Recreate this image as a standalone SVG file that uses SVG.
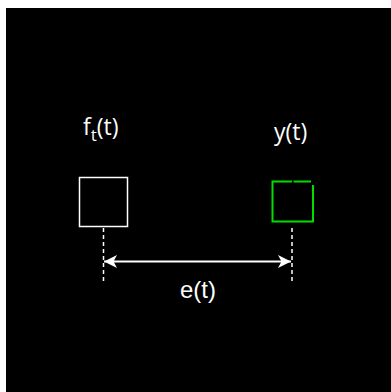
<svg xmlns="http://www.w3.org/2000/svg" width="391" height="392" viewBox="0 0 391 392">
<style>
.lbl{fill:#fff;font-family:"Open Sans","Noto Sans",sans-serif}
.lbl2{fill:#fff;font-family:"Liberation Sans",Arial,sans-serif}
.dash{stroke:#fff;stroke-width:1.5;stroke-dasharray:4,3;fill:none}
</style>
<defs>
<marker id="ah" viewBox="0 0 14 14" refX="13" refY="7" markerWidth="14" markerHeight="14" markerUnits="userSpaceOnUse" orient="auto-start-reverse">
<path d="M13,7 L0,0.5 L3.5,7 L0,13.5 Z" fill="#fff"/>
</marker>
</defs>
<rect x="0" y="0" width="391" height="392" fill="#fff"/>
<rect x="6" y="8" width="385" height="384" fill="#000"/>
<g id="node-ft">
<rect x="79.5" y="177.5" width="48" height="49" fill="none" stroke="#fff" stroke-width="1.5"/>
<text class="lbl" x="83" y="135" font-size="23">f<tspan font-size="17" dy="6">t</tspan><tspan dy="-6">(t)</tspan></text>
</g>
<g id="node-y">
<path d="M292,181.5 H272.5 V221.5 H313 V185 M293.5,181.5 H311" fill="none" stroke="#00dd00" stroke-width="2"/>
<text class="lbl" x="274" y="140" font-size="23">y(t)</text>
</g>
<g id="connectors">
<line class="dash" x1="103.5" y1="228" x2="103.5" y2="282"/>
<line class="dash" x1="292" y1="228" x2="292" y2="282"/>
<line x1="104" y1="261.5" x2="291" y2="261.5" stroke="#fff" stroke-width="2" marker-start="url(#ah)" marker-end="url(#ah)"/>
</g>
<g id="label-e">
<text class="lbl2" x="180" y="297.5" font-size="24">e(t)</text>
</g>
</svg>
